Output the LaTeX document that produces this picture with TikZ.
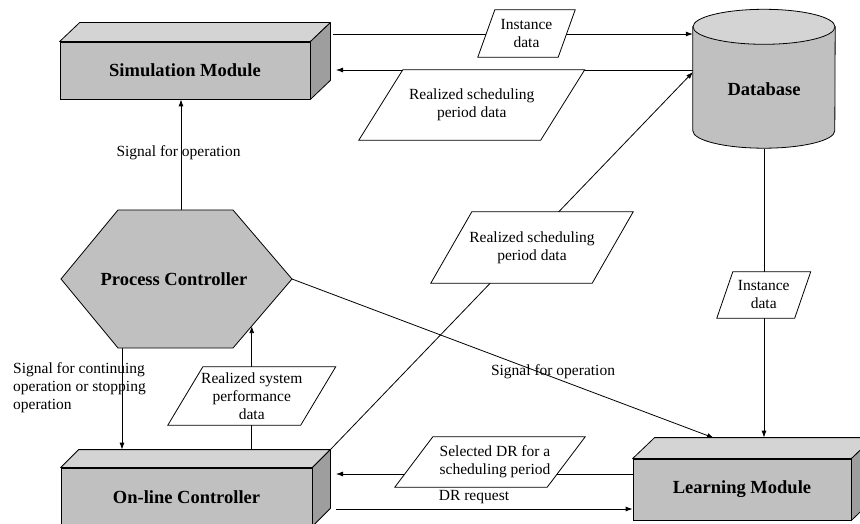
\documentclass[tikz,border=0pt]{standalone}
\usepackage{fontspec}
\setmainfont{Liberation Serif}
\usetikzlibrary{arrows.meta,calc}
\pgfdeclarelayer{bg}
\pgfdeclarelayer{mid}
\pgfsetlayers{bg,mid,main}
\definecolor{boxfront}{RGB}{192,192,192}
\definecolor{boxtop}{RGB}{212,212,212}
\definecolor{boxside}{RGB}{158,158,158}
\newcommand\boxfaces[3]{%
  \filldraw[fill=boxtop, line width=0.8pt, line join=round] (#1.north west) -- ++(#2,-#3) -- ($(#1.north east)+(#2,-#3)$) -- (#1.north east) -- cycle;
  \filldraw[fill=boxside, line width=0.8pt, line join=round] (#1.north east) -- ++(#2,-#3) -- ($(#1.south east)+(#2,-#3)$) -- (#1.south east) -- cycle;}
\newcommand\paral[2]{%
  \begin{pgfonlayer}{mid}
  \filldraw[fill=white, line width=0.8pt] ($(#1.south west)+(-#2,0)$) -- ($(#1.north west)+(#2,0)$) -- ($(#1.north east)+(#2,0)$) -- ($(#1.south east)+(-#2,0)$) -- cycle;
  \end{pgfonlayer}}
\begin{document}
\begin{tikzpicture}[x=1pt,y=-1pt,
  lbl/.style={font=\fontsize{15.5}{18}\selectfont, align=center, inner sep=0pt},
  bl/.style={font=\bfseries\fontsize{18.5}{21}\selectfont},
  conn/.style={draw=black, line width=0.8pt},
  arr/.style={conn, -{Latex[length=7pt,width=5pt]}},
  front/.style={draw, line width=0.8pt, fill=boxfront, inner sep=0pt, bl}]
\useasboundingbox (0,0) rectangle (860,524);
\begin{pgfonlayer}{bg}
\fill[white] (0,0) rectangle (860,524);
\end{pgfonlayer}

% 3D boxes
\node[front, minimum width=250pt, minimum height=57pt] (sim) at (185,70.5) {Simulation Module};
\boxfaces{sim}{20}{19}
\node[front, minimum width=251pt, minimum height=58pt] (online) at (186.5,497) {On-line Controller};
\boxfaces{online}{18}{18}
\node[front, minimum width=218pt, minimum height=61pt] (learn) at (742,489.5) {Learning Module};
\boxfaces{learn}{22}{21}

% Process controller hexagon
\coordinate (pcTL) at (118,210);
\coordinate (pcTR) at (233,210);
\coordinate (pcE) at (292,279);
\coordinate (pcBR) at (233,348);
\coordinate (pcBL) at (118,348);
\coordinate (pcW) at (61,279);
\begin{pgfonlayer}{mid}
\filldraw[fill=boxfront, line width=0.8pt] (pcTL) -- (pcTR) -- (pcE) -- (pcBR) -- (pcBL) -- (pcW) -- cycle;
\end{pgfonlayer}
\node[bl] (pc) at (174,279) {Process Controller};

% Database cylinder
\node[minimum width=142pt, minimum height=103.5pt, inner sep=0pt] (db) at (764,78.75) {};
\begin{pgfonlayer}{mid}
\filldraw[fill=boxfront, line width=0.8pt] (db.north west) -- (db.south west) arc[start angle=180, end angle=360, x radius=71pt, y radius=17.5pt] -- (db.north east) -- cycle;
\filldraw[fill=boxtop, line width=0.8pt] (db.north) ellipse [x radius=71pt, y radius=17.5pt];
\end{pgfonlayer}
\node[bl] (dbl) at (764,89) {Database};

% Data parallelograms
\node[lbl, minimum width=80pt, minimum height=47pt] (pd1) at (526.5,33.5) {Instance\\data};
\paral{pd1}{8.5}
\node[lbl, minimum width=181.5pt, minimum height=70pt] (rs1) at (471.75,105) {Realized scheduling\\period data};
\paral{rs1}{22}
\node[lbl, minimum width=161pt, minimum height=71pt] (rs2) at (532,247.5) {Realized scheduling\\period data};
\paral{rs2}{20.5}
\node[lbl, minimum width=77.5pt, minimum height=46pt] (id2) at (763.75,295) {Instance\\data};
\paral{id2}{8}
\node[lbl, minimum width=152pt, minimum height=50pt] (sdr) at (490,462) {\hspace*{10pt}Selected DR for a\\\hspace*{10pt}scheduling period};
\paral{sdr}{19}
\node[lbl, minimum width=132.5pt, minimum height=58pt] (rsp) at (251.75,396) {Realized system\\performance\\data};
\paral{rsp}{17.5}

% connector end points
\coordinate (simA) at (333,34);
\coordinate (simB) at (336,70);
\coordinate (dbIn) at (693,72);
\coordinate (dbBot) at (764,149);
\coordinate (onBack) at ($(online.north west)+(18,-18)$);
\coordinate (onTR) at ($(online.north east)+(18,-18)$);
\coordinate (onR1) at (336,474);
\coordinate (onR2) at (336,509);
\coordinate (lrnBack) at ($(learn.north west)+(22,-21)$);
\coordinate (lrnIn) at (714,438);
\coordinate (pcTop) at (181,210);
\coordinate (pcBot) at (122,348);
\coordinate (pcHit) at ($(pcE)!0.682!(pcBR)$);

\begin{pgfonlayer}{bg}
\draw[arr] (simA) -- (db.west |- simA);
\draw[arr] (db.west |- simB) -- (simB);
\draw[arr] (onTR) -- (dbIn);
\draw[arr] (dbBot) -- (dbBot |- lrnBack);
\draw[arr] (pcTop) -- (sim.south -| pcTop);
\draw[arr] (pcBot) -- (pcBot |- onBack);
\draw[arr] (rsp.south |- onBack) -- (rsp.north |- pcHit);
\draw[arr] (pcE) -- (lrnIn);
\draw[arr] (learn.west |- onR1) -- (onR1);
\draw[arr] (onR2) -- (learn.west |- onR2);
\end{pgfonlayer}

% connector labels
\node[lbl] (s1) at (178.5,153) {Signal for operation};
\node[lbl] (s2) at (553,372) {Signal for operation};
\node[lbl] (drq) at (474,497) {DR request};
\node[lbl, align=left, anchor=west] (s3) at (13,388) {Signal for continuing\\operation or stopping\\operation};
\end{tikzpicture}
\end{document}
